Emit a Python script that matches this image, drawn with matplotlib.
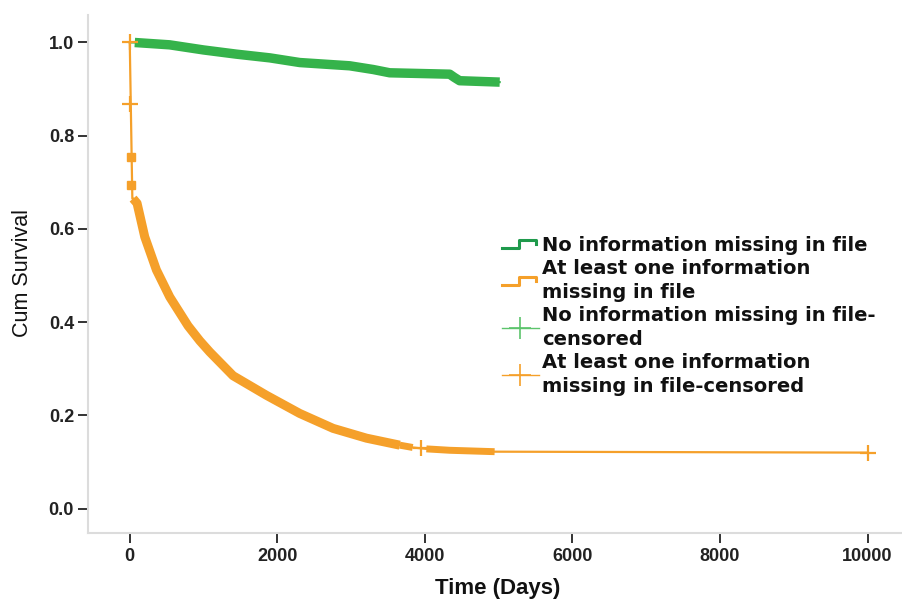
import numpy as np
import matplotlib
matplotlib.use("Agg")
import matplotlib.pyplot as plt
from matplotlib.lines import Line2D
from matplotlib.legend_handler import HandlerBase

# Kaplan-Meier estimates (time in days, cum survival)
green_t = [0, 68, 540, 1000, 1445, 1900, 2304, 2981, 3300, 3523, 4336, 4400, 4471, 5014]
green_s = [1.0, 1.0, 0.995, 0.984, 0.975, 0.967, 0.957, 0.950, 0.942, 0.935, 0.932, 0.925, 0.918, 0.915]

orange_t = [0, 35, 45, 99, 203, 361, 542, 790, 949, 1084, 1400, 1852, 2304, 2756,
            3208, 3659, 3835, 4020, 4336, 4945, 10000]
orange_s = [1.0, 0.665, 0.665, 0.655, 0.583, 0.512, 0.454, 0.392, 0.360, 0.336, 0.285,
            0.243, 0.204, 0.172, 0.151, 0.136, 0.131, 0.128, 0.125, 0.122, 0.120]

# isolated censored marks on the orange curve
orange_cens_t = [10, 10, 3950, 10000]
orange_cens_s = [1.0, 0.868, 0.129, 0.120]
orange_block_t = [15, 15]
orange_block_s = [0.755, 0.695]

# stretches where censor marks are so dense they merge into a band
green_band = [(68, 5014)]
orange_band = [(45, 3659), (3659, 3835), (4020, 4945)]
orange_band_lw = [6.5, 5.0, 5.0]

labels = ["No information missing in file",
          "At least one information\nmissing in file",
          "No information missing in file-\ncensored",
          "At least one information\nmissing in file-censored"]

x_ticks = [0, 2000, 4000, 6000, 8000, 10000]
y_ticks = [0.0, 0.2, 0.4, 0.6, 0.8, 1.0]

green = "#35b34b"
green_dark = "#1f9a4c"
orange = "#f5a02a"


class StepHandler(HandlerBase):
    # legend icon drawn as a small survival step
    def create_artists(self, legend, orig_handle, xdescent, ydescent,
                       width, height, fontsize, trans):
        x0 = -xdescent
        y0 = -ydescent
        fx = np.array([0.0, 0.45, 0.45, 0.92, 0.92])
        fy = np.array([0.2, 0.2, 0.8, 0.8, 0.5])
        line = Line2D(x0 + fx * width, y0 + fy * height,
                      color=orig_handle.get_color(),
                      linewidth=orig_handle.get_linewidth(),
                      transform=trans)
        return [line]


def band_points(t, s, lo, hi):
    t = np.asarray(t)
    s = np.asarray(s)
    m = (t >= lo) & (t <= hi)
    return t[m], s[m]


fig = plt.figure(figsize=(9.03, 6.02), dpi=100)
ax = fig.add_axes([88 / 903, 69 / 602, 815 / 903, 518 / 602])

# Green group
ax.plot(green_t, green_s, color=green, linewidth=1.5)
for lo, hi in green_band:
    bt, bs = band_points(green_t, green_s, lo, hi)
    ax.plot(bt, bs, color=green, linewidth=6.8, solid_capstyle="butt")

# Orange group
ax.plot(orange_t, orange_s, color=orange, linewidth=1.6)
for (lo, hi), lw in zip(orange_band, orange_band_lw):
    bt, bs = band_points(orange_t, orange_s, lo, hi)
    ax.plot(bt, bs, color=orange, linewidth=lw, solid_capstyle="butt")
ax.plot(orange_cens_t, orange_cens_s, linestyle="none", marker="+",
        markersize=11, markeredgewidth=1.6, color=orange)
ax.plot(orange_block_t, orange_block_s, linestyle="none", marker="s",
        markersize=6, color=orange)

# Axes
ax.set_xlim(-566, 10480)
ax.set_ylim(-0.0525, 1.059)
ax.set_xticks(x_ticks)
ax.set_yticks(y_ticks)
ax.set_xticklabels([str(v) for v in x_ticks])
ax.set_yticklabels(["%.1f" % v for v in y_ticks])
for sp in ["top", "right"]:
    ax.spines[sp].set_visible(False)
for sp in ["left", "bottom"]:
    ax.spines[sp].set_color("#dcdcdc")
    ax.spines[sp].set_linewidth(1.5)
ax.tick_params(axis="y", direction="out", length=7, width=1.4, color="#333333", pad=3)
ax.tick_params(axis="x", direction="out", length=7.5, width=1.4, color="#333333", pad=3.5)
for lab in ax.get_xticklabels() + ax.get_yticklabels():
    lab.set_fontfamily("Liberation Sans")
    lab.set_fontweight("bold")
    lab.set_fontsize(13)
    lab.set_color("#222222")

ax.set_ylabel("Cum Survival", fontfamily="Liberation Sans", fontsize=15.5, color="#111111")
ax.yaxis.set_label_coords(-0.068, 0.501)
ax.set_xlabel("Time (Days)", fontfamily="Liberation Sans", fontweight="bold",
              fontsize=16, color="#111111")
ax.xaxis.set_label_coords(0.503, -0.087)

# Legend
h_green = Line2D([], [], color=green_dark, linewidth=2.2)
h_orange = Line2D([], [], color=orange, linewidth=2.2)
h_green_c = Line2D([], [], color="#5cc46c", linewidth=1.0, marker="+",
                   markersize=16, markeredgewidth=1.2)
h_orange_c = Line2D([], [], color=orange, linewidth=1.0, marker="+",
                    markersize=16, markeredgewidth=1.2)
leg = ax.legend([h_green, h_orange, h_green_c, h_orange_c], labels,
                handler_map={h_green: StepHandler(), h_orange: StepHandler()},
                loc="upper left", bbox_to_anchor=(502 / 903, 1 - 236 / 602),
                bbox_transform=fig.transFigure, frameon=False, borderpad=0,
                borderaxespad=0, handlelength=1.9, handletextpad=0.15,
                labelspacing=0.2, numpoints=1,
                prop={"family": "DejaVu Sans", "weight": "bold", "size": 14})
for txt in leg.get_texts():
    txt.set_color("#111111")
    txt.set_linespacing(1.35)

fig.savefig("out.png", dpi=100)
